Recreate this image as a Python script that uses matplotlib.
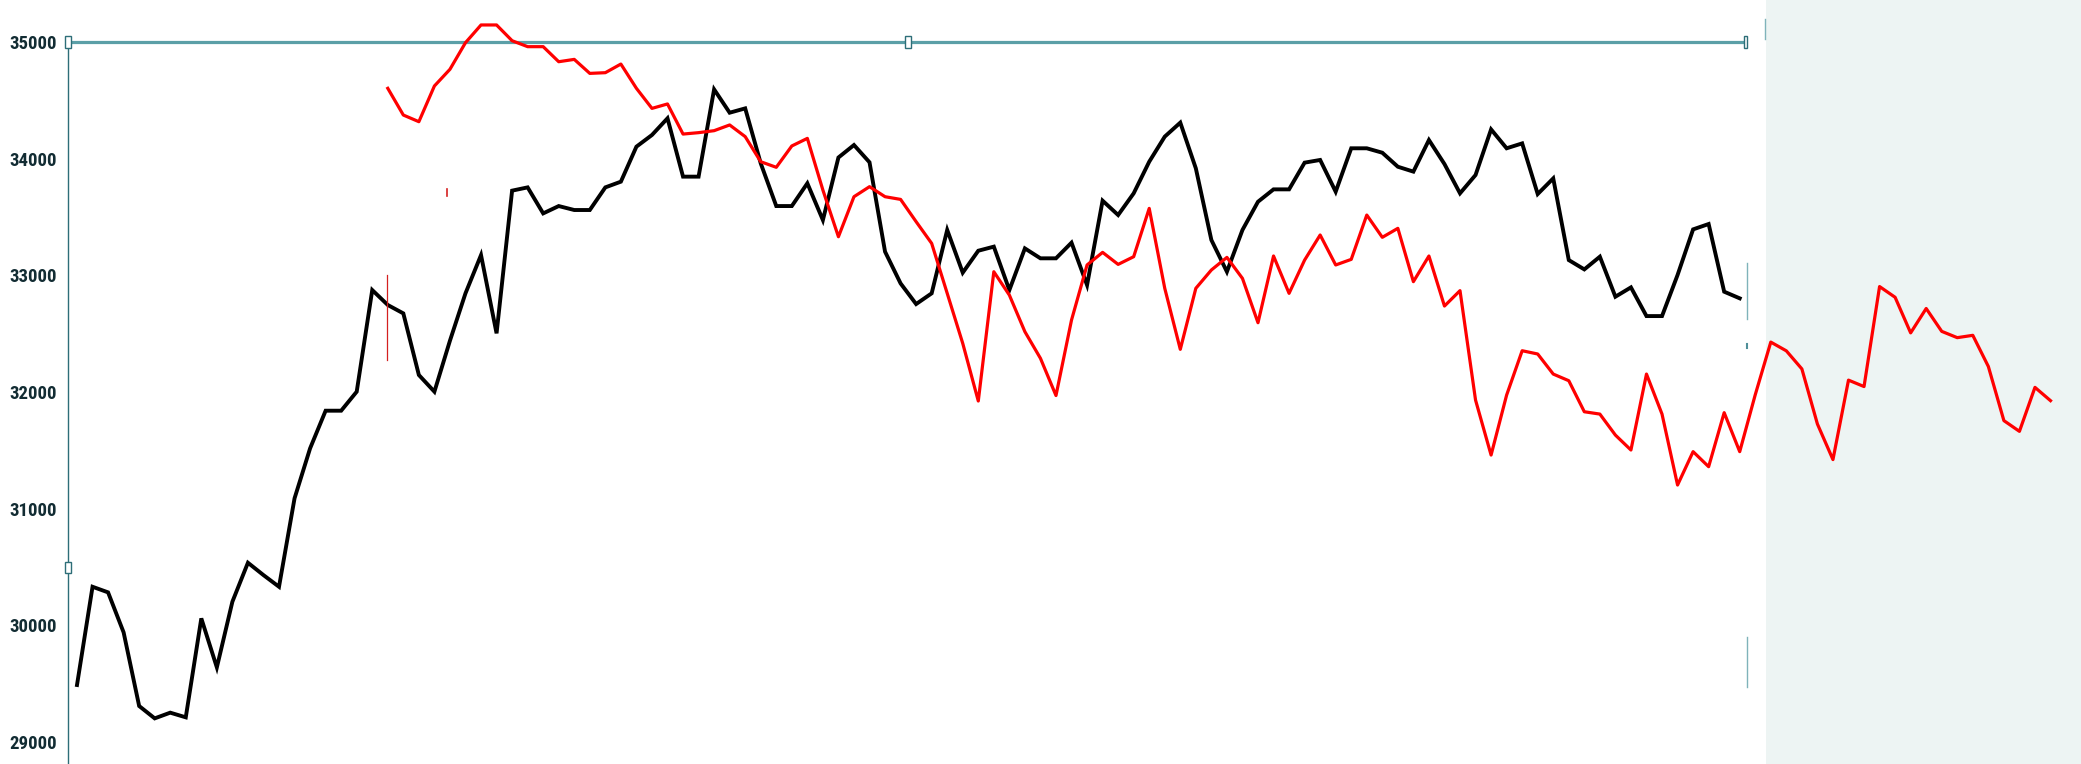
import numpy as np
import matplotlib
matplotlib.use("Agg")
import matplotlib.pyplot as plt
from matplotlib.patches import Rectangle
from matplotlib.lines import Line2D
from matplotlib import font_manager

# ---------------- data ----------------
black_start = 0
black_values = [
    29489, 30331, 30283, 29940, 29309, 29203, 29252, 29212, 30060, 29640,
    30203, 30537, 30431, 30331, 31089, 31517, 31840, 31840, 32003, 32874,
    32746, 32674, 32146, 32003, 32440, 32846, 33174, 32503, 33726, 33754,
    33531, 33594, 33560, 33560, 33754, 33803, 34103, 34203, 34346, 33846,
    33846, 34594, 34394, 34431, 33960, 33594, 33594, 33789, 33474, 34010,
    34117, 33969, 33203, 32931, 32754, 32846, 33389, 33023, 33211, 33246,
    32874, 33231, 33146, 33146, 33280, 32917, 33640, 33517, 33703, 33974,
    34189, 34309, 33917, 33303, 33031, 33389, 33631, 33737, 33737, 33966,
    33989, 33717, 34089, 34089, 34051, 33931, 33889, 34160, 33954, 33703,
    33860, 34251, 34089, 34131, 33697, 33831, 33131, 33051, 33160, 32817,
    32897, 32651, 32651, 33003, 33394, 33440, 32860, 32803,
]
red_start = 20
red_values = [
    34603, 34374, 34317, 34623, 34766, 34994, 35146, 35146, 35011, 34960,
    34960, 34831, 34851, 34731, 34737, 34811, 34603, 34431, 34469, 34211,
    34223, 34240, 34289, 34189, 33974, 33926, 34109, 34174, 33731, 33331,
    33674, 33760, 33674, 33651, 33460, 33274, 32846, 32417, 31923, 33031,
    32831, 32517, 32289, 31970, 32617, 33089, 33197, 33094, 33160, 33574,
    32889, 32366, 32889, 33046, 33154, 32974, 32594, 33166, 32846, 33131,
    33346, 33089, 33137, 33517, 33326, 33403, 32946, 33166, 32737, 32869,
    31931, 31460, 31974, 32354, 32326, 32154, 32097, 31831, 31811, 31631,
    31503, 32154, 31811, 31203, 31489, 31360, 31823, 31489, 31977, 32428,
    32353, 32198, 31726, 31421, 32102, 32047, 32904, 32812, 32507, 32716,
    32520, 32466, 32486, 32219, 31755, 31663, 32040, 31926,
]
y_ticks = [29000, 30000, 31000, 32000, 33000, 34000, 35000]
y_tick_labels = ["29000", "30000", "31000", "32000", "33000", "34000", "35000"]

# ---------------- figure ----------------
W, H = 2081, 764
fig = plt.figure(figsize=(W / 100, H / 100), dpi=100)
fig.patch.set_facecolor("white")

def fx(px):
    return px / W

def fy(py):
    return 1 - py / H

# light grey-teal panel on the right
fig.add_artist(Rectangle((fx(1766), 0), fx(W - 1766), 1, transform=fig.transFigure,
                         facecolor="#edf4f3", edgecolor="none", zorder=-5))

ax = fig.add_axes([fx(68), 0, fx(1745 - 68), (H - 42) / H])
ax.set_facecolor("none")
ax.set_xlim(-0.579, 107.34)
ax.set_ylim(28812, 35000)

xb = np.arange(black_start, black_start + len(black_values))
xr = np.arange(red_start, red_start + len(red_values))
ax.plot(xb, black_values, color="black", lw=2.8, solid_joinstyle="miter", zorder=3)
ax.plot(xr, red_values, color="#ff0000", lw=2.3, clip_on=False, zorder=4)

for s in ["right", "bottom"]:
    ax.spines[s].set_visible(False)
ax.spines["top"].set_color("#5b9fa7")
ax.spines["top"].set_linewidth(2.3)
ax.spines["left"].set_color("#2d6e78")
ax.spines["left"].set_linewidth(1.0)

avail = {f.name for f in font_manager.fontManager.ttflist}
fam = "DejaVu Sans"
for cand in ["Liberation Sans Narrow", "Roboto Condensed", "Liberation Sans"]:
    if cand in avail:
        fam = cand
        break

ax.set_xticks([])
ax.set_yticks(y_ticks)
ax.set_yticklabels(y_tick_labels, fontfamily=fam, fontweight="bold", fontsize=13.5,
                   color="#122c33")
ax.tick_params(axis="y", length=0, pad=8)

# selection handles
def handle(cx, cy, w=6, h=11):
    fig.add_artist(Rectangle((fx(cx - w / 2), fy(cy + h / 2)), fx(w), h / H,
                             transform=fig.transFigure, facecolor="white",
                             edgecolor="#2d6e78", lw=1.0, zorder=10))

handle(68, 42)
handle(68, 567)
handle(908, 42)
handle(1745, 42, w=3)

def seg(x0, y0, x1, y1, color, lw):
    fig.add_artist(Line2D([fx(x0), fx(x1)], [fy(y0), fy(y1)], transform=fig.transFigure,
                          color=color, lw=lw, zorder=9))

# small artefacts
seg(387, 275, 387, 360, "#d42020", 0.9)
seg(447, 189, 447, 196, "#d42020", 1.2)
seg(1747, 263, 1747, 319, "#7fb3ba", 1.0)
seg(1747, 344, 1747, 348, "#4f8f99", 1.5)
seg(1747, 637, 1747, 687, "#7fb3ba", 1.0)
seg(1765, 19, 1765, 39, "#7fb3ba", 1.0)

fig.savefig("out.png", dpi=100, facecolor=fig.get_facecolor())
